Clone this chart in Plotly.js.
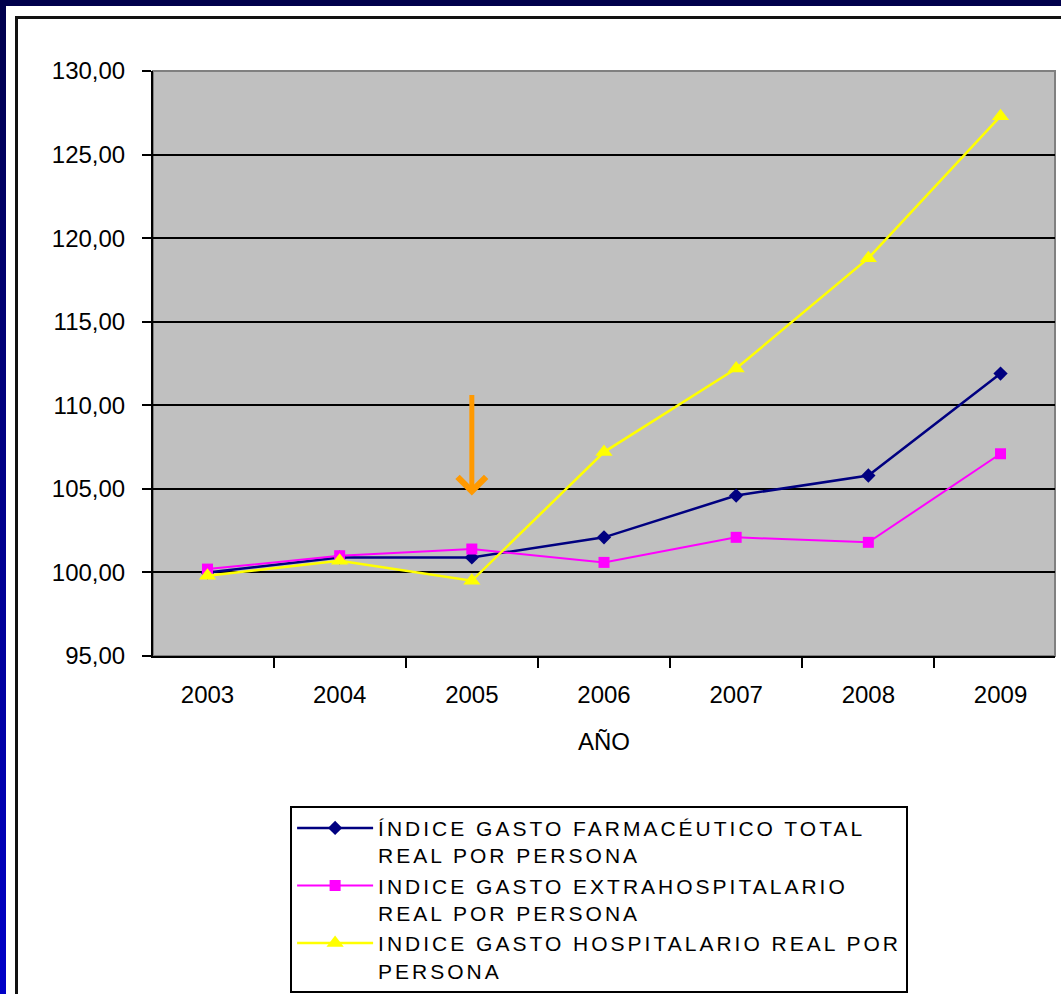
<!DOCTYPE html>
<html>
<head>
<meta charset="utf-8">
<script src="https://cdn.plot.ly/plotly-3.0.1.min.js"></script>
<style>
  html, body { margin: 0; padding: 0; width: 1061px; height: 994px; overflow: hidden; background: #00004c; }
  #leftband { position: absolute; left: 0; top: 0; width: 6px; height: 994px; background: linear-gradient(#00004c, #0000c8); }
  #panel { position: absolute; left: 6px; top: 6px; width: 1055px; height: 988px; background: #ffffff; }
  #frame { position: absolute; left: 15px; top: 16px; width: 1100px; height: 1100px; border-left: 3px solid #111; border-top: 3px solid #111; }
  #chart { position: absolute; left: 0; top: 0; width: 1061px; height: 994px; }
  .legendtext { letter-spacing: 3px; }
</style>
</head>
<body>
<div id="leftband"></div>
<div id="panel"></div>
<div id="frame"></div>
<div id="chart"></div>
<script>
const years = ['2003', '2004', '2005', '2006', '2007', '2008', '2009'];
const gastoFarmaceutico = [100.0, 100.9, 100.9, 102.1, 104.6, 105.8, 111.9];
const gastoExtrahospitalario = [100.2, 101.0, 101.4, 100.6, 102.1, 101.8, 107.1];
const gastoHospitalario = [99.8, 100.7, 99.5, 107.2, 112.2, 118.8, 127.3];
const seriesNames = [
  'ÍNDICE GASTO FARMACÉUTICO TOTAL<br>REAL POR PERSONA',
  'INDICE GASTO EXTRAHOSPITALARIO<br>REAL POR PERSONA',
  'INDICE GASTO HOSPITALARIO REAL POR<br>PERSONA'
];
const yTicks = [95, 100, 105, 110, 115, 120, 125, 130];
const arrowYear = '2005';

const font = 'Liberation Sans, Arial, sans-serif';

const traces = [
  {
    x: years, y: gastoFarmaceutico, name: seriesNames[0], type: 'scatter', mode: 'lines+markers',
    line: { color: '#000080', width: 2.5 },
    marker: { symbol: 'diamond', size: 11, color: '#000080' }
  },
  {
    x: years, y: gastoExtrahospitalario, name: seriesNames[1], type: 'scatter', mode: 'lines+markers',
    line: { color: '#ff00ff', width: 2 },
    marker: { symbol: 'square', size: 11, color: '#ff00ff' }
  },
  {
    x: years, y: gastoHospitalario, name: seriesNames[2], type: 'scatter', mode: 'lines+markers',
    line: { color: '#ffff00', width: 2.5 },
    marker: { symbol: 'triangle-up', size: 15, color: '#ffff00' }
  }
];

const layout = {
  width: 1061,
  height: 994,
  paper_bgcolor: 'rgba(0,0,0,0)',
  plot_bgcolor: '#c0c0c0',
  separators: ',.',
  margin: { l: 153, r: 6, t: 71, b: 338, autoexpand: false },
  font: { family: font, color: '#000000', size: 24 },
  showlegend: true,
  xaxis: {
    type: 'category',
    tickson: 'boundaries',
    ticks: 'outside',
    ticklen: 10,
    tickwidth: 2,
    tickcolor: '#000',
    showline: true,
    linecolor: '#000',
    linewidth: 2,
    showgrid: false,
    zeroline: false,
    ticklabelstandoff: 16,
    tickfont: { family: font, size: 24, color: '#000' },
    title: { text: 'AÑO', font: { family: font, size: 24, color: '#000' }, standoff: 26 }
  },
  yaxis: {
    range: [95, 130],
    tickvals: yTicks,
    tickformat: '.2f',
    ticks: 'outside',
    ticklen: 9,
    tickwidth: 2,
    tickcolor: '#000',
    showline: true,
    linecolor: '#000',
    linewidth: 2,
    showgrid: true,
    gridcolor: '#000',
    gridwidth: 2,
    zeroline: false,
    ticklabelstandoff: 12,
    tickfont: { family: font, size: 24, color: '#000' }
  },
  legend: {
    x: 0.152, xanchor: 'left',
    y: -0.256, yanchor: 'top',
    bgcolor: '#ffffff',
    bordercolor: '#000',
    borderwidth: 2,
    valign: 'top',
    itemwidth: 76,
    font: { family: font, size: 21, color: '#000' }
  },
  shapes: [
    { type: 'rect', xref: 'paper', yref: 'paper', x0: 0, x1: 1, y0: 0, y1: 1,
      line: { color: '#808080', width: 2 }, layer: 'below' }
  ],
  annotations: [
    { x: years.indexOf(arrowYear), y: 104.6, xref: 'x', yref: 'y', text: '', showarrow: true,
      ax: 0, ay: -102, arrowhead: 4, arrowsize: 1.1, arrowwidth: 5, arrowcolor: '#ff9900' }
  ]
};

Plotly.newPlot('chart', traces, layout, { displayModeBar: false, staticPlot: true });
</script>
</body>
</html>
